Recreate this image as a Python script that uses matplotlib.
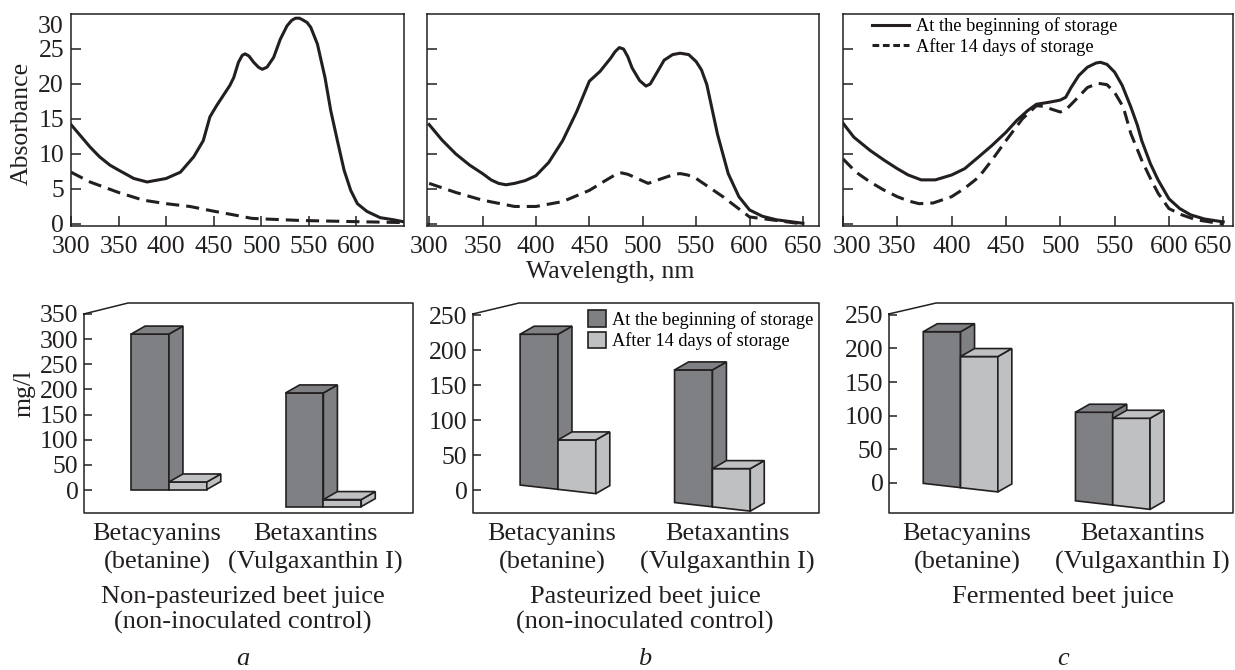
import matplotlib
matplotlib.use("Agg")
import matplotlib.pyplot as plt
from matplotlib.patches import Polygon, Patch
from matplotlib.lines import Line2D
from matplotlib.transforms import blended_transform_factory

plt.rcParams['font.family'] = ['Liberation Serif', 'DejaVu Serif']

# ---------------- data ----------------
# Absorption spectra (wavelength nm, absorbance)
wl_a_begin = [300, 310, 320, 330, 341, 350, 366, 380, 400, 415, 429, 439, 446, 453, 467, 471, 476, 480,
              483, 487, 492, 497, 501, 506, 513, 520, 527, 532, 536, 540, 543, 548, 552, 559, 567, 573,
              580, 587, 594, 601, 611, 625, 639, 650]
ab_a_begin = [14.2, 12.6, 11.0, 9.6, 8.4, 7.7, 6.5, 6.0, 6.5, 7.4, 9.6, 11.9, 15.3, 16.9, 19.8, 20.9, 23.1, 24.1,
              24.3, 24.0, 23.1, 22.4, 22.1, 22.4, 23.8, 26.4, 28.3, 29.1, 29.4, 29.4, 29.2, 28.8, 28.1, 25.7, 20.9, 16.2,
              11.9, 7.7, 4.8, 2.9, 1.8, 0.9, 0.6, 0.3]
wl_a_after = [300, 320, 350, 376, 400, 425, 451, 471, 490, 506, 541, 576, 611, 650]
ab_a_after = [7.4, 6.0, 4.5, 3.4, 2.9, 2.5, 1.8, 1.3, 0.8, 0.7, 0.5, 0.4, 0.3, 0.2]

wl_b_begin = [300, 312, 325, 338, 350, 358, 365, 372, 380, 390, 400, 412, 425, 438, 450, 460, 470, 474, 478,
              482, 486, 490, 497, 503, 507, 512, 520, 528, 535, 543, 550, 555, 560, 570, 580, 590, 600, 612,
              625, 650]
ab_b_begin = [14.2, 12.0, 10.0, 8.4, 7.2, 6.3, 5.8, 5.6, 5.8, 6.2, 6.9, 8.8, 11.9, 16.0, 20.4, 21.8, 23.7, 24.6,
              25.2, 25.0, 23.9, 22.3, 20.5, 19.7, 20.0, 21.3, 23.4, 24.2, 24.4, 24.2, 23.2, 22.0, 19.9, 12.8,
              7.2, 3.9, 2.0, 1.1, 0.6, 0.1]
wl_b_after = [300, 325, 350, 380, 400, 425, 450, 465, 475, 480, 486, 492, 505, 520, 530, 535, 542, 550, 575,
              600, 625, 650]
ab_b_after = [5.8, 4.5, 3.4, 2.5, 2.5, 3.2, 4.8, 6.2, 7.1, 7.3, 7.1, 6.7, 5.8, 6.6, 7.1, 7.2, 7.0, 6.5, 3.9,
              1.0, 0.5, 0.0]

wl_c_begin = [300, 310, 325, 338, 350, 360, 372, 385, 400, 412, 425, 437, 450, 460, 470, 478, 490, 500,
              505, 510, 517, 525, 533, 537, 543, 550, 557, 565, 571, 575, 583, 590, 600, 610, 620, 633, 650]
ab_c_begin = [14.4, 12.4, 10.5, 9.1, 7.9, 7.0, 6.3, 6.3, 7.0, 7.9, 9.6, 11.2, 13.1, 14.8, 16.2, 17.1, 17.4, 17.7,
              18.1, 19.5, 21.2, 22.4, 23.0, 23.1, 22.8, 21.7, 19.8, 16.7, 14.1, 11.9, 8.6, 6.3, 3.6, 2.2, 1.3,
              0.7, 0.3]
wl_c_after = [300, 312, 325, 337, 350, 360, 370, 383, 400, 412, 425, 437, 450, 465, 478, 485, 492, 500,
              505, 512, 525, 535, 543, 550, 558, 565, 575, 583, 590, 600, 612, 625, 650]
ab_c_after = [9.3, 7.4, 6.0, 4.9, 3.9, 3.3, 2.9, 3.0, 3.9, 5.1, 6.7, 9.1, 11.9, 15.0, 16.9, 16.8, 16.4, 16.0,
              16.3, 17.4, 19.5, 20.1, 19.9, 18.8, 16.7, 12.9, 9.1, 6.5, 4.4, 2.2, 1.3, 0.6, 0.0]

series_labels = ["At the beginning of storage", "After 14 days of storage"]

# Pigment content, mg/l  (categories: betacyanins, betaxanthins)
categories = ["Betacyanins", "Betaxantins"]
subnames = ["(betanine)", "(Vulgaxanthin I)"]
a_begin = [310, 227]
a_after = [16, 15]
b_begin = [223, 172]
b_after = [72, 31]
c_begin = [225, 105]
c_after = [188, 96]

panel_titles = [["Non-pasteurized beet juice", "(non-inoculated control)"],
                ["Pasteurized beet juice", "(non-inoculated control)"],
                ["Fermented beet juice"]]
panel_letters = ["a", "b", "c"]

# ---------------- style / layout ----------------
W, H = 1235, 670
INK = '#231f20'
DARK = '#7f8084'
LIGHT = '#bec0c2'
FS = 18.5

fig = plt.figure(figsize=(W / 100, H / 100), dpi=100)


def rect(l, t, r, b):
    return [l / W, (H - b) / H, (r - l) / W, (b - t) / H]


# ---------- top row: spectra ----------
top_boxes = [(71, 14, 404, 226), (427, 14, 819, 226), (843, 14, 1233, 226)]
top_xlims = [(300, 650), (298, 665), (300, 659)]
spectra = [(wl_a_begin, ab_a_begin, wl_a_after, ab_a_after),
           (wl_b_begin, ab_b_begin, wl_b_after, ab_b_after),
           (wl_c_begin, ab_c_begin, wl_c_after, ab_c_after)]
# pixel nudges of individual x tick labels (to keep neighbours apart)
label_nudge = [{}, {}, {300: 9, 650: -10}]

top_axes = []
for i, (box, xl, sp) in enumerate(zip(top_boxes, top_xlims, spectra)):
    ax = fig.add_axes(rect(*box))
    top_axes.append(ax)
    w1, v1, w2, v2 = sp
    ax.plot(w1, v1, color=INK, lw=2.2, solid_joinstyle='round', label=series_labels[0])
    ax.plot(w2, v2, color=INK, lw=2.2, dashes=(4.3, 2.3), label=series_labels[1])
    ax.set_xlim(*xl)
    ax.set_ylim(-0.29, 30.0)
    ticks = list(range(300, 601 if i == 0 else 651, 50))
    ax.set_xticks(ticks)
    ax.set_xticklabels(["" if t in label_nudge[i] else str(t) for t in ticks])
    ax.set_yticks([0, 5, 10, 15, 20, 25])
    for s in ax.spines.values():
        s.set_linewidth(1.1)
        s.set_color(INK)
    ax.tick_params(direction='in', length=7, width=1.1, color=INK, labelsize=FS,
                   labelcolor=INK, top=False, right=False)
    ax.tick_params(axis='x', pad=7)
    ax.tick_params(axis='y', pad=5)
    pxu = (box[2] - box[0]) / (xl[1] - xl[0])
    trx = blended_transform_factory(ax.transData, ax.transAxes)
    for t, off in label_nudge[i].items():
        ax.text(t + off / pxu, -0.1, str(t), transform=trx, ha='center', va='center',
                fontsize=FS, color=INK)
    if i > 0:
        ax.set_yticklabels([])
    else:
        tr = blended_transform_factory(ax.transAxes, ax.transData)
        ax.text(-0.024, 28.2, "30", transform=tr, ha='right', va='center',
                fontsize=FS, color=INK)

top_axes[2].legend(handles=[Line2D([], [], color=INK, lw=2.2),
                            Line2D([], [], color=INK, lw=2.2, dashes=(2.2, 1.2))],
                   labels=series_labels, loc='upper left', bbox_to_anchor=(0.074, 0.985),
                   frameon=False, fontsize=13.2, handlelength=2.0, handletextpad=0.4,
                   labelspacing=0.15, borderpad=0, borderaxespad=0)

fig.text(22 / W, 1 - 123 / H, "Absorbance", rotation=90, ha='center', va='center',
         fontsize=FS, color=INK)
fig.text(610 / W, 1 - 272 / H, "Wavelength, nm", ha='center', va='center',
         fontsize=FS, color=INK)

# ---------- bottom row: pseudo-3D bars ----------
bot_boxes = [(84, 303, 413, 513), (473, 303, 819, 513), (889, 303, 1233, 513)]
bot_xlims = [(-0.55, 1.58), (-0.55, 1.69), (-0.47, 1.79)]
bot_ylims = [(-45.7, 371.8), (-32.4, 267.6), (-45.2, 267.8)]
bot_yticks = [list(range(0, 351, 50)), list(range(0, 251, 50)), list(range(0, 251, 50))]
corner_x = [0.134, 0.133, 0.137]
corner_y = 0.948
# floor of the tilted 3D base: (offset, slope per category unit, per-group drop)
floors = [(1.0, 0.0, [0, -34]), (1.4, -25.0, [0, 0]), (-7.4, -26.0, [0, 0])]
bar_values = [(a_begin, a_after), (b_begin, b_after), (c_begin, c_after)]
BW = 0.245
DX_PX, DY_PX = 14, 8

cat_x = [(157, 315), (552, 727), (967, 1142)]
title_x = [243, 645, 1063]

for i in range(3):
    ax = fig.add_axes(rect(*bot_boxes[i]))
    ax.set_xlim(*bot_xlims[i])
    ax.set_ylim(*bot_ylims[i])
    for s in ax.spines.values():
        s.set_visible(False)
    ax.set_xticks([])
    ax.set_yticks(bot_yticks[i])
    ax.tick_params(axis='y', direction='in', length=6, width=1.1, color=INK,
                   labelsize=FS, labelcolor=INK, pad=4)
    ax.add_line(Line2D([0, 0, 1, 1, corner_x[i], 0], [corner_y, 0, 0, 1, 1, corner_y],
                       transform=ax.transAxes, color=INK, lw=1.1, clip_on=False))

    box = bot_boxes[i]
    pxu_x = (box[2] - box[0]) / (bot_xlims[i][1] - bot_xlims[i][0])
    pxu_y = (box[3] - box[1]) / (bot_ylims[i][1] - bot_ylims[i][0])
    dx = DX_PX / pxu_x
    dy = DY_PX / pxu_y
    f0, slope, drops = floors[i]
    begin, after = bar_values[i]

    for g in range(len(categories)):
        for k, (vals, col) in enumerate(((begin, DARK), (after, LIGHT))):
            x0 = g - BW + k * BW
            x1 = x0 + BW
            yb0 = f0 + slope * x0 + drops[g]
            yb1 = f0 + slope * x1 + drops[g]
            top = vals[g] + drops[g]
            faces = [
                [(x0, yb0), (x1, yb1), (x1, top), (x0, top)],
                [(x1, yb1), (x1 + dx, yb1 + dy), (x1 + dx, top + dy), (x1, top)],
                [(x0, top), (x1, top), (x1 + dx, top + dy), (x0 + dx, top + dy)],
            ]
            for fpts in faces:
                ax.add_patch(Polygon(fpts, closed=True, facecolor=col, edgecolor=INK,
                                     lw=1.2, joinstyle='miter', zorder=2 + g * 2 + k))

    for j in range(len(categories)):
        fig.text(cat_x[i][j] / W, 1 - 540 / H, categories[j], ha='center', va='baseline',
                 fontsize=19, color=INK)
        fig.text(cat_x[i][j] / W, 1 - 569 / H, subnames[j], ha='center', va='baseline',
                 fontsize=19, color=INK)
    for li, line in enumerate(panel_titles[i]):
        fig.text(title_x[i] / W, 1 - (603 + 26 * li) / H, line, ha='center', va='baseline',
                 fontsize=19, color=INK)
    fig.text(title_x[i] / W, 1 - 665 / H, panel_letters[i], ha='center', va='baseline',
             fontsize=19, style='italic', color=INK)

    if i == 1:
        ax.legend(handles=[Patch(facecolor=DARK, edgecolor=INK, lw=1.2),
                           Patch(facecolor=LIGHT, edgecolor=INK, lw=1.2)],
                  labels=series_labels, loc='upper left', bbox_to_anchor=(0.332, 0.965),
                  frameon=False, fontsize=13.2, handlelength=1.0, handleheight=1.0,
                  handletextpad=0.3, labelspacing=0.15, borderpad=0, borderaxespad=0)

fig.text(25 / W, 1 - 393 / H, "mg/l", rotation=90, ha='center', va='center',
         fontsize=FS, color=INK)

fig.savefig("out.png", dpi=100)
